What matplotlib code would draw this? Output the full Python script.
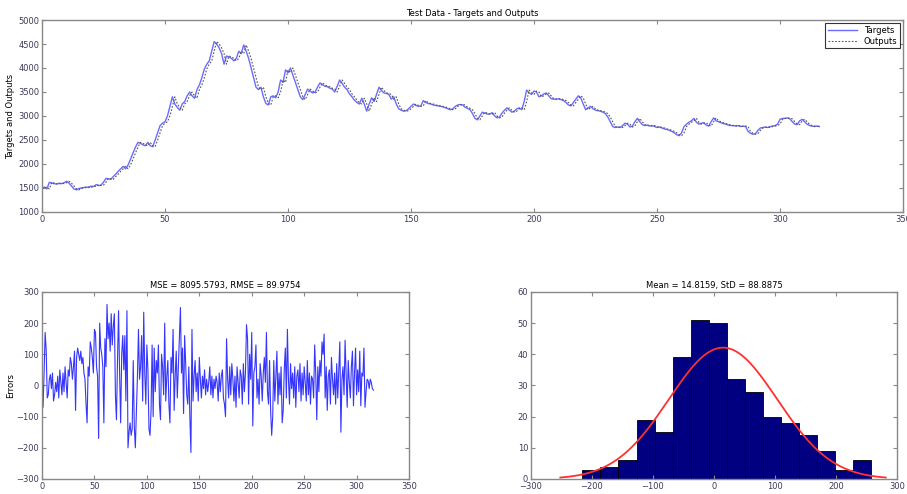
import numpy as np
import matplotlib
matplotlib.use("Agg")
import matplotlib.pyplot as plt

targets = [
    1500, 1520, 1480, 1620, 1600, 1590, 1580, 1600, 1590, 1610,
    1640, 1600, 1540, 1480, 1460, 1490, 1500, 1510, 1520, 1510,
    1540, 1530, 1570, 1550, 1560, 1620, 1700, 1690, 1680, 1740,
    1790, 1850, 1900, 1950, 1900, 1980, 2100, 2230, 2350, 2450,
    2430, 2400, 2380, 2450, 2380, 2360, 2500, 2650, 2800, 2850,
    2880, 3000, 3200, 3400, 3250, 3180, 3120, 3250, 3300, 3420,
    3500, 3420, 3370, 3550, 3650, 3800, 3980, 4080, 4150, 4350,
    4550, 4500, 4420, 4300, 4080, 4250, 4230, 4200, 4150, 4200,
    4350, 4300, 4480, 4350, 4200, 4000, 3800, 3600, 3550, 3600,
    3400, 3260, 3230, 3400, 3420, 3380, 3500, 3750, 3700, 3960,
    3900, 4000, 3850, 3700, 3550, 3400, 3340, 3450, 3560, 3520,
    3480, 3500, 3600, 3690, 3650, 3620, 3610, 3580, 3560, 3500,
    3620, 3750, 3680, 3600, 3550, 3460, 3400, 3330, 3280, 3250,
    3370, 3250, 3100, 3250, 3380, 3300, 3450, 3600, 3530, 3480,
    3470, 3450, 3350, 3400, 3250, 3150, 3120, 3100, 3110, 3150,
    3200, 3250, 3220, 3200, 3210, 3320, 3280, 3260, 3250, 3230,
    3220, 3210, 3200, 3190, 3170, 3150, 3130, 3150, 3200, 3230,
    3240, 3230, 3180, 3160, 3130, 3050, 2950, 2920, 3000, 3080,
    3060, 3040, 3040, 3070, 3000, 2960, 2980, 3060, 3120, 3170,
    3120, 3080, 3100, 3150, 3170, 3130, 3300, 3540, 3480, 3450,
    3520, 3500, 3400, 3420, 3460, 3480, 3420, 3360, 3350, 3350,
    3360, 3340, 3320, 3280, 3230, 3210, 3280, 3350, 3420, 3380,
    3250, 3130, 3170, 3200, 3150, 3120, 3110, 3100, 3080, 3050,
    2980, 2880, 2780, 2760, 2770, 2760, 2800, 2850, 2830, 2770,
    2790, 2880, 2950, 2880, 2820, 2800, 2810, 2790, 2800, 2780,
    2760, 2770, 2750, 2730, 2720, 2700, 2680, 2650, 2610, 2590,
    2650, 2780, 2830, 2870, 2900, 2950, 2870, 2830, 2850, 2860,
    2810, 2790, 2880, 2960, 2900, 2880, 2860, 2840, 2830, 2810,
    2800, 2800, 2790, 2800, 2780, 2790, 2780, 2680, 2640, 2620,
    2630, 2700, 2750, 2760, 2770, 2760, 2780, 2790, 2800, 2830,
    2930, 2950, 2950, 2960, 2940, 2880, 2830, 2820, 2900, 2930,
    2880, 2830, 2800, 2790, 2780, 2790, 2780,
]

outputs = [
    1490, 1500, 1520, 1480, 1620, 1600, 1590, 1580, 1600, 1590,
    1610, 1640, 1600, 1540, 1480, 1460, 1490, 1500, 1510, 1520,
    1510, 1540, 1530, 1570, 1550, 1560, 1620, 1700, 1690, 1680,
    1740, 1790, 1850, 1900, 1950, 1900, 1980, 2100, 2230, 2350,
    2450, 2430, 2400, 2380, 2450, 2380, 2360, 2500, 2650, 2800,
    2850, 2880, 3000, 3200, 3400, 3250, 3180, 3120, 3250, 3300,
    3420, 3500, 3420, 3370, 3550, 3650, 3800, 3980, 4080, 4150,
    4350, 4550, 4500, 4420, 4300, 4080, 4250, 4230, 4200, 4150,
    4200, 4350, 4300, 4480, 4350, 4200, 4000, 3800, 3600, 3550,
    3600, 3400, 3260, 3230, 3400, 3420, 3380, 3500, 3750, 3700,
    3960, 3900, 4000, 3850, 3700, 3550, 3400, 3340, 3450, 3560,
    3520, 3480, 3500, 3600, 3690, 3650, 3620, 3610, 3580, 3560,
    3500, 3620, 3750, 3680, 3600, 3550, 3460, 3400, 3330, 3280,
    3250, 3370, 3250, 3100, 3250, 3380, 3300, 3450, 3600, 3530,
    3480, 3470, 3450, 3350, 3400, 3250, 3150, 3120, 3100, 3110,
    3150, 3200, 3250, 3220, 3200, 3210, 3320, 3280, 3260, 3250,
    3230, 3220, 3210, 3200, 3190, 3170, 3150, 3130, 3150, 3200,
    3230, 3240, 3230, 3180, 3160, 3130, 3050, 2950, 2920, 3000,
    3080, 3060, 3040, 3040, 3070, 3000, 2960, 2980, 3060, 3120,
    3170, 3120, 3080, 3100, 3150, 3170, 3130, 3300, 3540, 3480,
    3450, 3520, 3500, 3400, 3420, 3460, 3480, 3420, 3360, 3350,
    3350, 3360, 3340, 3320, 3280, 3230, 3210, 3280, 3350, 3420,
    3380, 3250, 3130, 3170, 3200, 3150, 3120, 3110, 3100, 3080,
    3050, 2980, 2880, 2780, 2760, 2770, 2760, 2800, 2850, 2830,
    2770, 2790, 2880, 2950, 2880, 2820, 2800, 2810, 2790, 2800,
    2780, 2760, 2770, 2750, 2730, 2720, 2700, 2680, 2650, 2610,
    2590, 2650, 2780, 2830, 2870, 2900, 2950, 2870, 2830, 2850,
    2860, 2810, 2790, 2880, 2960, 2900, 2880, 2860, 2840, 2830,
    2810, 2800, 2800, 2790, 2800, 2780, 2790, 2780, 2680, 2640,
    2620, 2630, 2700, 2750, 2760, 2770, 2760, 2780, 2790, 2800,
    2830, 2930, 2950, 2950, 2960, 2940, 2880, 2830, 2820, 2900,
    2930, 2880, 2830, 2800, 2790, 2780, 2790,
]

errors = [
    60, -70, 40, 170, 115, -40, -30, 20, 35, -10,
    40, -50, -30, 10, -20, 30, -40, 50, 10, -30,
    40, -20, 60, 10, -40, 50, 30, 90, 70, 20,
    60, 110, -80, 90, 120, 100, 80, 110, 70, 90,
    40, 20, -60, -120, 60, 30, 140, 120, 90, 40,
    180, 170, 60, 30, -170, 200, 120, 100, 60, -120,
    150, 60, 260, 150, 200, 110, 230, 130, 190, 230,
    -30, -110, 80, 240, 40, -120, 100, 160, 50, 160,
    -50, 240, -200, -150, -120, -160, -140, 80, -130, -200,
    -90, 30, 180, 20, 60, 160, -50, 235, 40, -60,
    130, 50, -140, -160, -80, 130, -100, 120, -20, 80,
    40, 130, -60, -110, 100, 60, -30, 200, -50, 30,
    80, -60, -120, 90, 40, 180, -80, 30, 110, -40,
    60, 160, 250, 40, 120, -90, 160, 70, -30, -60,
    60, -100, -215, 180, -50, 30, 80, -20, 40, -50,
    90, 20, -40, 30, -10, 50, -30, 20, -20, 10,
    60, -30, 30, -40, 20, -10, 30, 10, -50, 40,
    -20, 30, 50, -40, -60, -100, 150, 20, -40, 60,
    -30, 70, 20, -50, 30, -70, 60, 10, -40, 50,
    30, -60, 70, -20, 40, 195, 150, -60, 100, 20,
    170, -130, 40, 60, 130, -40, 20, -60, 70, 30,
    -50, 40, 90, 10, 170, -20, -60, 80, -80, -160,
    -100, 80, -50, 30, 110, -60, 40, -30, 60, -120,
    -80, 50, 120, -40, 180, 20, -60, 70, -10, 40,
    -40, 60, -70, 30, 50, -20, 70, -50, 40, -30,
    60, 10, -50, 80, -30, 40, -60, 30, 20, -40,
    130, 40, -110, 60, -20, 80, 30, 140, 100, 165,
    -40, 60, -80, 30, 50, -60, 90, 20, -30, 40,
    -60, 70, -40, 50, 140, -150, 20, 60, -30, 145,
    40, -70, 80, 10, -40, 60, 110, -65, 40, 120,
    -30, 50, -20, 110, -65, 40, 30, 120, -70, -20,
    20, 15, -10, 20, 10, -10, -15,
]

hist_counts = [3, 4, 6, 19, 15, 39, 51, 50, 32, 28, 20, 18, 14, 9, 3, 6]
hist_range = (-215.8, 258.0)
err_mean = 14.8159
err_std = 88.8875
mse_val = 8095.5793
rmse_val = 89.9754

plt.rcParams['font.family'] = ['DejaVu Sans']
plt.rcParams['font.size'] = 6

fig = plt.figure(figsize=(9.07, 4.94), dpi=100)
tick_col = '#3a3a5a'
spine_col = '#888888'

def style(ax):
    for s in ax.spines.values():
        s.set_color(spine_col)
        s.set_linewidth(1.0)
    ax.tick_params(direction='in', top=True, right=True, length=3,
                   width=0.8, colors=spine_col, labelcolor=tick_col,
                   labelsize=6, pad=2)

ax1 = fig.add_axes([0.0463, 0.5709, 0.9493, 0.3886])
ax1.plot(np.arange(len(targets)), targets, color='#6b6bff', lw=1.0, label='Targets')
ax1.plot(np.arange(len(outputs)), outputs, color='#555555', lw=0.8,
         ls=(0, (1.5, 1.5)), label='Outputs')
ax1.set_xlim(0, 350)
ax1.set_ylim(1000, 5000)
ax1.set_xticks(np.arange(0, 351, 50))
ax1.set_yticks(np.arange(1000, 5001, 500))
ax1.set_title('Test Data - Targets and Outputs', fontsize=6, pad=3)
ax1.set_ylabel('Targets and Outputs', fontsize=6)
ax1.yaxis.set_label_coords(-0.031, 0.5)
leg = ax1.legend(loc='upper right', fontsize=6, frameon=True, fancybox=False,
                 edgecolor='black', borderaxespad=0.4, handlelength=3.5,
                 borderpad=0.3, labelspacing=0.2)
leg.get_frame().set_linewidth(0.8)
style(ax1)

ax2 = fig.add_axes([0.0463, 0.0304, 0.4047, 0.3786])
ax2.plot(np.arange(len(errors)), errors, color='#3535ff', lw=0.8)
ax2.set_xlim(0, 350)
ax2.set_ylim(-300, 300)
ax2.set_xticks(np.arange(0, 351, 50))
ax2.set_yticks(np.arange(-300, 301, 100))
ax2.set_title('MSE = %.4f, RMSE = %.4f' % (mse_val, rmse_val), fontsize=6, pad=3)
ax2.set_ylabel('Errors', fontsize=6)
ax2.yaxis.set_label_coords(-0.074, 0.5)
style(ax2)

ax3 = fig.add_axes([0.5854, 0.0304, 0.4036, 0.3786])
nb = len(hist_counts)
edges = np.linspace(hist_range[0], hist_range[1], nb + 1)
width = edges[1] - edges[0]
ax3.bar(edges[:-1], hist_counts, width=width, align='edge',
        color='#000080', edgecolor='black', linewidth=0.6)
xs = np.linspace(err_mean - 3 * err_std, err_mean + 3 * err_std, 200)
pdf = np.exp(-0.5 * ((xs - err_mean) / err_std) ** 2) / (err_std * np.sqrt(2 * np.pi))
ax3.plot(xs, pdf * sum(hist_counts) * width, color='#ff3030', lw=1.3)
ax3.set_xlim(-300, 300)
ax3.set_ylim(0, 60)
ax3.set_xticks(np.arange(-300, 301, 100))
ax3.set_yticks(np.arange(0, 61, 10))
ax3.set_title('Mean = %.4f, StD = %.4f' % (err_mean, err_std), fontsize=6, pad=3)
ax3.set_xlabel('Errors', fontsize=6, labelpad=4)
style(ax3)

fig.savefig('out.png', dpi=100)
